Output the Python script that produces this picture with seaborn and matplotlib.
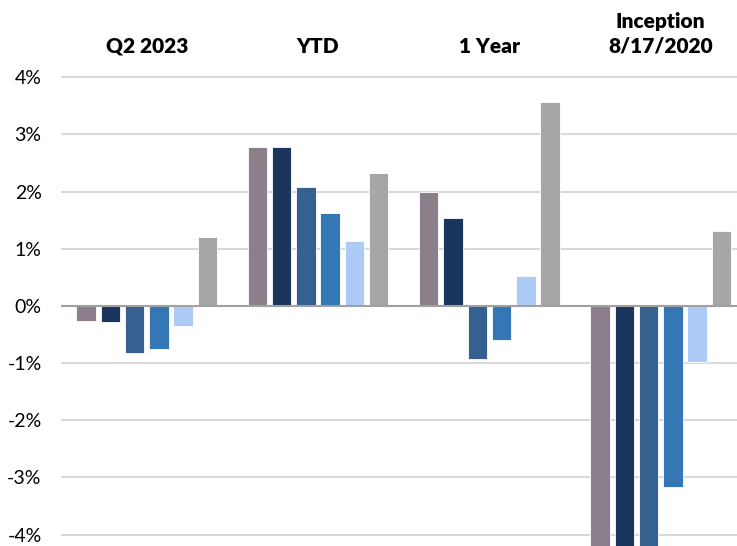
import matplotlib
matplotlib.use("Agg")
import matplotlib.pyplot as plt
import seaborn as sns
import pandas as pd
from matplotlib.ticker import FuncFormatter

periods = ["Q2 2023", "YTD", "1 Year", "Inception\n8/17/2020"]
series = ["Series 1", "Series 2", "Series 3", "Series 4", "Series 5", "Series 6"]
colors = ["#8B7F8B", "#1A365D", "#36608F", "#3577B5", "#ADCBF7", "#A6A6A6"]

values = {
    "Series 1": [-0.27, 2.78, 2.00, -4.60],
    "Series 2": [-0.29, 2.78, 1.53, -4.60],
    "Series 3": [-0.83, 2.08, -0.93, -4.60],
    "Series 4": [-0.75, 1.62, -0.60, -3.16],
    "Series 5": [-0.35, 1.14, 0.52, -0.99],
    "Series 6": [1.20, 2.33, 3.57, 1.31],
}
yticks = [-4, -3, -2, -1, 0, 1, 2, 3, 4]

rows = []
for s in series:
    for p, v in zip(periods, values[s]):
        rows.append({"period": p, "series": s, "value": v})
df = pd.DataFrame(rows)

sns.set_theme(style="white")
plt.rcParams["font.family"] = ["Lato", "DejaVu Sans"]

fig = plt.figure(figsize=(7.37, 5.46), dpi=100)
ax = fig.add_axes([0.0828, 0.0, 0.930, 0.890])

ax.set_axisbelow(True)
for t in yticks:
    if t != 0:
        ax.axhline(t, color="#D9D9D9", lw=1.5, zorder=0)

sns.barplot(data=df, x="period", y="value", hue="series", order=periods,
            hue_order=series, palette=colors, width=0.85, gap=0.2,
            legend=False, ax=ax, saturation=1, edgecolor="white", linewidth=0.6)

ax.axhline(0, color="#A0A0A0", lw=1.5, zorder=3)

ax.set_ylim(-4.2, 4.3)
ax.set_xlim(-0.5, 3.5)
ax.set_yticks(yticks)
ax.yaxis.set_major_formatter(FuncFormatter(lambda v, p: f"{v:.0f}%"))
ax.tick_params(axis="y", length=0, pad=14, labelsize=14, labelcolor="#000000")
for lab in ax.get_yticklabels():
    lab.set_verticalalignment("center_baseline")
ax.xaxis.tick_top()
ax.tick_params(axis="x", length=0, pad=3, labelsize=15, labelcolor="#000000")
for lab in ax.get_xticklabels():
    lab.set_fontweight("heavy")
    lab.set_linespacing(1.35)
ax.set_xlabel("")
ax.set_ylabel("")
for sp in ax.spines.values():
    sp.set_visible(False)

fig.savefig("out.png", dpi=100)
